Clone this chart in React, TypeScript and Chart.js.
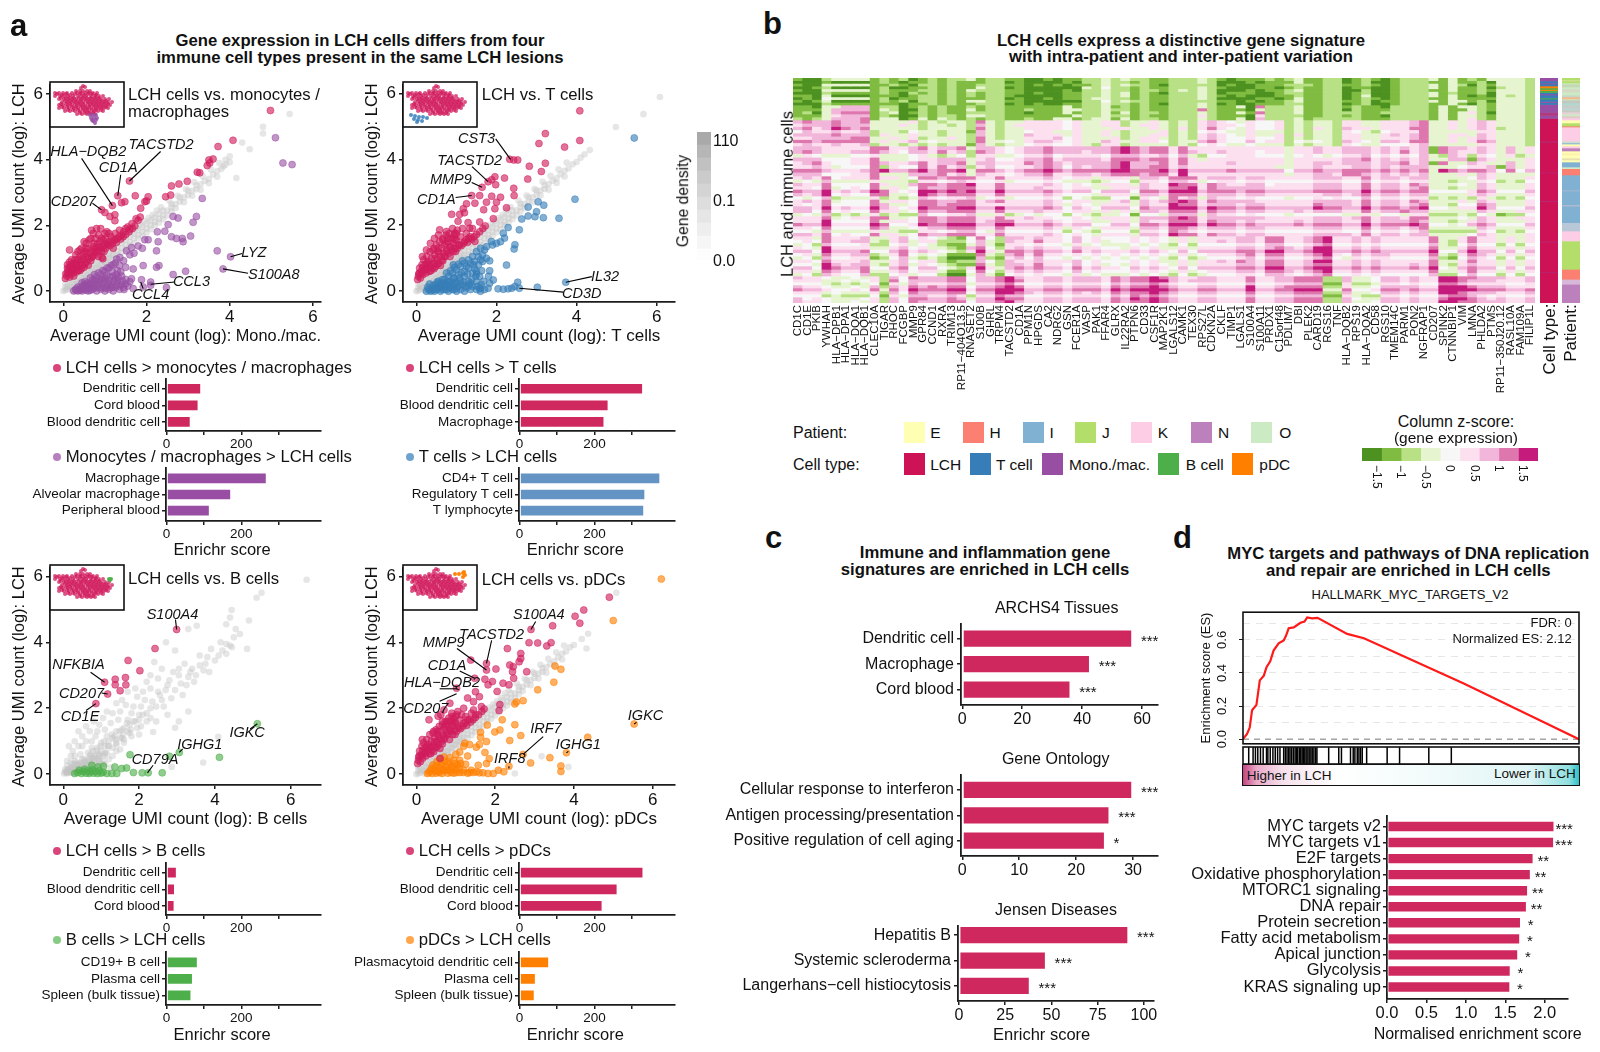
import React, { useEffect, useRef } from "react";
import { Chart, registerables } from "chart.js";
Chart.register(...registerables);
const FONT = "'Liberation Sans', Arial, sans-serif";
Chart.defaults.font.family = FONT;
Chart.defaults.color = "#111";

// ---------- colours
const LCH_C = "rgba(208,28,92,0.62)", MONO_C = "rgba(152,78,163,0.6)", T_C = "rgba(55,126,184,0.62)", B_C = "rgba(77,175,74,0.62)", PDC_C = "rgba(255,127,0,0.62)";
const BAR_LCH = "#CF285F", BAR_MONO = "#984EA3", BAR_T = "#6394C4", BAR_B = "#4DAF4A", BAR_PDC = "#FF7F00";
const HEAT_COLORS = ["#4d9221", "#7fbc41", "#b8e186", "#e6f5d0", "#f7f7f7", "#fde0ef", "#f1b6da", "#de77ae", "#c51b7d"];

// ---------- scatter data (x, y pairs)
const greyDiagonal = [0,0,.05,.02,.05,.1,.1,.05,.1,.15,.15,.12,.2,.1,.2,.25,.25,.2,.3,.2,.3,.35,.35,.28,.4,.3,.4,.45,.45,.38,.5,.4,.5,.55,.55,.48,.6,.5,.6,.65,.65,.58,.7,.6,.7,.75,.75,.68,.8,.7,.8,.85,.85,.78,.9,.8,.9,.95,.95,.88,1,.9,1,1.05,1.05,.98,1.1,1,1.1,1.15,1.15,1.08,1.2,1.1,1.2,1.25,1.3,1.2,1.3,1.35,1.4,1.3,1.4,1.45,1.5,1.4,1.5,1.55,1.6,1.5,1.6,1.65,1.7,1.6,1.7,1.75,1.8,1.7,1.8,1.85,1.9,1.8,1.9,1.95,2,1.9,2,2.05,2.1,2,2.1,2.15,2.2,2.1,2.2,2.25,2.3,2.2,2.3,2.35,2.4,2.3,2.4,2.45,2.5,2.45,2.6,2.55,2.6,2.65,2.7,2.65,2.8,2.72,2.8,2.85,2.9,2.85,3,2.92,3,3.05,3.1,3.05,3.2,3.1,3.2,3.22,3.3,3.25,3.4,3.35,3.5,3.42,3.6,3.55,3.7,3.65,3.8,3.72,3.9,3.85,4,3.92];
const greyBand = [.2,.02,.3,.1,.4,.2,.5,.28,.6,.38,.7,.48,.8,.58,.9,.68,1,.78,1.1,.88,1.2,.98,1.3,1.1,1.4,1.18,1.5,1.28,1.6,1.38,1.7,1.45,1.8,1.6,1.9,1.68,2,1.78,2.1,1.88,.05,.22,.15,.32,.25,.42,.35,.52,.45,.62,.55,.72,.65,.82,.75,.92,.85,1.02,.95,1.12,1.05,1.22,1.15,1.32,1.25,1.42,1.35,1.52,1.45,1.62,1.55,1.72,1.65,1.82,1.75,1.92,1.85,2.02,1.95,2.12,2.05,2.22,2.15,2.32,2.25,2.45,2.35,2.55,2.2,2,2.3,2.08,2.4,2.18,2.5,2.3,2.6,2.42,2.7,2.52,2.55,2.75,2.75,2.9,2.95,3.1,3.15,3.32,3.35,3.5,3.55,3.7,3.75,3.9,2.9,2.7,3.1,2.9,3.3,3.08,3.5,3.28,3.7,3.48];
const greyS1 = [5.44,5.39,4.8,5,4.8,4.8,4.3,4.52,4.48,4.32,4.16,3.44,4,4.1,3.9,4,3.85,3.8];
const greyS2 = [6.08,5.89,5.67,5.37,4.98,4.98,4.33,4.28,4.2,4.15,4.1,4.05];
const greyS4 = [5.08,5.5,4.36,4.26,4.32,3.81,4.2,4.1,3.18,.54,3.86,.22,2.5,.02,2.1,.1];
const greyS3 = [6.42,5.9,5.23,5.5,5.1,5.35,4.44,4.98,4.4,4.75,4.9,4.66,4.3,4.55,3.52,4.5,3.3,4.4,2.71,4,2.95,3.75,4.66,4.25,4.5,4.15,4.3,3.95,4.85,3.8,4.4,3.9,4.2,3.75,4.1,3.6,3.9,3.8,3.8,3.55,3.69,.35,2.86,.22,4.09,1.13,2.95,1.41,2.37,1.28,3.6,3.3,3.7,3.15,3.4,3.2,3.5,3,3.2,3.35,3.05,3,3.3,2.95,3.1,2.75,2.9,3.1,2.8,2.85,2.6,3.2,2.5,2.9,2.4,3.4,2.3,3,2.7,2.55,2.5,2.5,2.3,2.6,2.2,2.8,2.1,2.5,2.6,2.25,2.35,2.2,2.15,2.25,1.95,2.35,1.9,2.6,1.7,2.5,1.85,2.05,2.05,2.05,2.2,1.85,2,1.8,1.8,1.85,1.65,2.1,1.55,2.25,1.4,2.15,1.5,1.9,1.7,1.65,1.9,1.6,2.05,1.45,1.6,1.4,1.45,1.65,1.3,1.85,1.15,1.9,1.05,1.7,1.25,1.55,1.4,1.3,1.75,1.25,1.55,1.1,1.3,1.1,1.1,1.35,.95,1.5,.8,1.6,.9,1.3,1.15,1.15,1.4,.9,1.2,.85,1,.95,.85,1.15,.7,1.3,.6,1.45,.75,1,.9,.8,1.1,.65,.95,.6,.75,.8,.6,1,.5,1.15,.4,1.3,.3,1,.5,.85,.65,.65,.8,.5,.95,.4,1.1,.3,.4,.85,.25,.7,.15,.85,.3,.55,.45,.6,.55,.45,.7,.35,.85,.25,.2,.55,.1,.4,.2,.35,.3,.4,.4,.3,.55,.25,.7,.15,.1,.25,.05,.15,.12,.15,.2,.2,.3,.15,.4,.1,.5,.08,.02,.02,.06,.05,.1,.05,.15,.05,.2,.06,.25,.05,.3,.05,1.25,.2,1.05,.3,1.4,.7,1.6,.95,3.3,1.9,3.05,1.6,2.75,1.8];
const greyS3b = [.1,.02,.2,.15,.25,.12,.3,.3,.35,.2,.4,.12,.45,.35,.5,.25,.55,.15,.6,.3,.65,.45,.7,.55,.75,.35,.8,.2,.85,.45,.9,.6,.95,.4,1,.3,1,.7,1.05,.55,1.1,.85,1.15,.65,1.2,.45,1.2,1,1.3,.8,1.3,.55,1.35,1.15,1.4,.95,1.5,.75,1.5,1.1,1.55,1.35,1.6,1.05,1.7,1.3,1.75,1.5,1.8,1.15,1.85,1.6,1.95,1.4,2,1.65,2,1.2,2.1,1.8,2.2,1.6,2.3,2,2.3,1.7,2.45,2.05,2.45,1.6,2.55,2.4,2.65,2.05,2.75,2.7,2.85,2.3,2.95,2.55,3.05,3.2,3.15,2.4,3.25,2.7,3.35,3.1,3.45,2.8,3.6,3.6,3.75,3.35,3.85,3.1,4,3.45,4.15,4,4.3,3.65,4.45,3.85,4.55,4.4,.1,.1,.15,.15,.2,.2,.25,.3,.3,.15,.35,.35,.4,.25,.45,.2,.5,.45,.55,.35,.6,.2,.65,.3,.7,.2,.75,.5,.8,.4,.85,.3,.9,.25,.95,.55,1.05,.4,1.1,.6,.05,.08,.12,.06,.18,.1,.22,.05,.28,.2,.32,.1,.38,.28,.42,.15,.48,.32,.52,.12,.58,.4,.62,.25,.68,.38,.72,.6,.78,.7,.82,.55,.88,.72,.92,.45,.98,.85,1.08,1,1.18,.85,1.28,1.2,1.38,1.05,1.48,1.3,1.58,1.2,1.68,1.55,1.78,1.35];

const pinkBandFill = [.06,.52,.14,.55,.16,.72,.24,.65,.26,.85,.32,.82,.36,.62,.44,.68,.46,.98,.52,.82,.56,1.15,.6,.78,.66,.92,.7,1.05,.74,1.45,.76,1.2,.84,1.05,.86,1.35,.92,1.2,.96,1.55,.98,1.2,1.02,1.3,1.08,1.4,1.12,1.38,1.18,1.45,1.24,1.55,1.28,1.48,1.34,1.65,1.38,1.58,1.44,1.65,1.5,1.72,1.58,1.8,1.66,1.9,1.72,1.98,.44,1.3,.54,1.3,.66,1.6,.78,1.6,.92,1.6,1,1.75];
const s1Pink = [4.98,5.5,4.08,4.59,3.72,4.4,3.6,4.02,3.5,3.99,3.46,3.82,3.52,3.9,3.28,3.6,3.22,3.62,2.98,3.34,2.78,3.26,2.6,3.2,2.58,2.92,2.46,2.87,1.59,3.35,1.31,2.9,1.73,2.9,1.48,2.72,1.4,2.69,1.18,2.6,2.04,2.87,2,2.74,1.96,2.72,1.86,2.52,1.24,2.32,1.24,2.14,1.12,2.27,1,2.39,.92,2.47,.05,.38,.08,.45,.1,.55,.12,.65,.15,.42,.18,.5,.2,.62,.22,.75,.25,.55,.28,.68,.3,.85,.1,.8,.15,.88,.2,.95,.28,.95,.33,.72,.35,.95,.38,.8,.4,1.05,.42,.9,.45,.78,.48,1.1,.5,.95,.52,1.2,.55,.88,.58,1.05,.6,1.3,.62,.98,.65,1.15,.68,1.02,.7,1.25,.72,1.35,.75,1.1,.78,1.3,.8,1.18,.82,1.42,.85,1.22,.88,1.5,.9,1.3,.93,1.02,.95,1.35,1,1.4,1.02,1.6,1.05,1.45,1.1,1.5,1.15,1.65,1.2,1.55,1.25,1.75,1.3,1.6,1.35,1.85,1.4,1.7,1.45,1.8,1.5,1.9,1.55,1.95,1.6,1.88,1.65,2.05,1.75,2.2,1.8,2.15,1.85,2.25,.15,1.25,.35,1.2,.5,1.5,.62,1.55,.68,1.85,.72,1.75,.8,1.9,.85,1.7,.9,1.9,1.05,1.8,1.1,1.75,1.2,1.3,.95,.98,.4,1.25,.3,1.1,.55,1.45,.1,.7,.18,.8,.25,.45,.32,.58,.4,.62,.5,.72];
const s1Mono = [5.1,4.67,5.28,3.9,5.5,3.85,3.34,2.82,3.2,2.27,3.12,2.09,2.76,2.22,2.64,2.27,2.52,2.02,2.44,1.82,2.26,1.8,2.6,1.65,2.72,1.6,2.86,1.6,2.88,1.5,3.06,1.67,3.7,1.22,4.02,1.04,3.84,.67,2.28,1.5,2.24,1.22,2.04,1.56,1.96,1.56,2.3,.77,2.24,.72,1.92,.77,1.68,.67,2.94,.6,2.64,.5,2.48,.1,2.1,.27,2.1,.17,1.88,.34,1.92,.12,1.68,.07,1.46,.04,1.5,.22,1.64,.37,1.5,.72,1.28,.97,1.36,1.02,1.52,1.22,1.64,1.32,1.8,1.37,.25,0,.3,.05,.35,0,.4,.1,.45,0,.5,.05,.5,.18,.55,.1,.6,0,.6,.25,.65,.15,.7,.05,.7,.33,.75,.2,.8,0,.8,.42,.85,.1,.85,.3,.9,.05,.9,.5,.95,.2,.95,.4,1,0,1,.6,1.05,.15,1.05,.48,1.1,.05,1.1,.3,1.1,.7,1.15,.2,1.2,0,1.2,.45,1.2,.8,1.25,.1,1.3,.3,1.3,.62,1.35,.05,1.4,.2,1.4,.45,1.5,.35,.65,.02,.4,.02,.55,.18,.75,.08,.95,.1,1.15,.1,1.25,.38,.3,.02,.35,.12,.42,.05,.48,.15,.55,.02,.58,.2,.62,.08,.68,.22,.72,.12,.78,.3,.82,.18,.88,.22,.92,.35,.98,.3,1.02,.08,1.02,.38,1.08,.22,1.12,.42,1.18,.12,1.18,.58,1.22,.3,1.28,.18,1.28,.5,1.32,.4,1.35,.15,1.38,.58,1.42,.3,1.45,.1,1.55,.15,1.6,.28,.65,.4,.75,.5,.85,.55,.95,.62,1.05,.7,1.15,.78,1.25,.85,1.35,.78,1.45,.92,1.6,1.1,1.7,1.15,1.9,1.3,.52,.28,.45,.25,.75,.35];
const s2Pink = [4.08,5.47,3.22,4.78,3.06,4.48,3.7,4.37,4.08,4.57,3.22,3.88,3.12,3.63,2.82,3.79,2.78,3.4,2.53,3.98,2.33,4,2.43,3.98,2.2,3.43,1.96,3.47,1.88,3.38,1.79,3.32,1.98,3.23,1.64,3.15,2.43,3.12,2.44,2.9,2.1,2.85,1.88,2.88,1.58,2.9,1.38,2.9,1.75,2.7,2,2.7,1.96,2.5,1.68,2.47,2.25,2.53,1.92,2.2,1.46,2.67,1.25,2.65,1.17,2.5,1.2,2.38,.88,2.33,1.08,2.33,1.04,2.12,1.29,2.08,1.46,1.51,.58,1.86,.75,1.81,.96,1.76,1.33,1.91,1.58,2.1,.03,.35,.05,.45,.07,.55,.08,.7,.1,.4,.12,.6,.14,.8,.16,.5,.18,.95,.2,.65,.22,.8,.24,.55,.26,1.05,.28,.7,.3,.9,.32,.6,.34,1.2,.36,.8,.38,1,.4,.7,.42,1.25,.44,.85,.46,1.1,.48,.75,.5,1.4,.52,.95,.54,1.2,.56,.85,.58,1.5,.6,1.05,.62,1.3,.64,.95,.66,1.55,.68,1.15,.7,1.4,.72,1.05,.74,1.7,.76,1.25,.78,1.5,.8,1.15,.82,1.75,.84,1.35,.86,1.6,.88,1.25,.9,1.9,.92,1.45,.94,1.7,.96,1.3,1,1.55,1.02,1.85,1.05,1.4,1.1,1.65,1.15,1.9,1.2,1.5,1.25,1.75,1.3,1.6,1.4,1.9,.15,1.05,.25,1.25,.35,1.45,.45,1.6,.55,1.7];
const s2T = [5.44,4.65,3.96,2.79,3.04,2.71,3.18,2.61,2.79,2.55,3,2.41,2.79,2.28,2.96,2.26,3.17,2.23,3.56,2.21,2.63,2.19,2.57,1.86,2.29,1.93,2.17,1.76,2.2,1.61,1.87,1.51,2.46,1.41,2.44,1.28,2.25,.79,3.73,.27,2.53,.27,2.57,.09,3.02,.12,2.04,.07,2.17,.06,2.29,.07,2.38,.09,2.46,.14,1.92,.34,1.83,.24,1.79,.09,1.58,.07,1.83,.62,1.83,.92,1.63,.62,1.5,.52,1.46,.67,.92,.8,.33,.22,.25,0,.3,.05,.35,0,.4,.1,.45,0,.5,.05,.5,.2,.55,.1,.6,0,.6,.25,.65,.15,.7,.05,.7,.35,.75,.2,.8,0,.8,.45,.85,.1,.85,.3,.9,.05,.9,.55,.95,.2,.95,.4,1,0,1,.65,1.05,.15,1.05,.5,1.1,.05,1.1,.3,1.1,.75,1.15,.2,1.2,0,1.2,.45,1.2,.85,1.25,.1,1.3,.3,1.3,.7,1.3,.95,1.35,.05,1.4,.15,1.4,.55,1.4,1.05,1.45,.9,1.5,.05,1.5,.3,1.5,1.2,1.55,.8,1.6,0,1.6,.1,1.65,1.1,1.7,.05,1.75,1.35,1.75,1,1.8,.45,1.9,1.4,2,1.45,2.1,1.5,1.7,1.25,1.6,1.3,1.2,.6,1,.25,.8,.25,.6,.12,1.35,.25,1.5,.6,1.65,.9,.95,.05,.75,.05,.28,.12,.38,.03,.42,.18,.48,.1,.52,.28,.58,.15,.62,.05,.68,.25,.72,.15,.78,.3,.82,.12,.88,.2,.92,.4,.98,.28,1.02,.1,1.08,.4,1.12,.55,1.18,.28,1.22,.15,1.28,.52,1.32,.18,1.38,.35,1.42,.8,1.48,.45,1.52,.15,1.58,.45,1.62,.2,1.68,.3,.65,.35,.75,.55,.85,.62,.95,.72,1.05,.82,1.15,.92,1.25,.75,1.35,.85,1.55,1.05,1.6,.95,.45,.05,.55,.3];
const s3Pink = [2.99,4.39,2.42,3.81,1.71,3.45,2.02,3.14,1.64,2.93,1.37,2.88,1.09,2.79,1.37,2.71,1.65,2.71,1.5,2.53,1.17,2.43,.86,2.14];
const s3B = [5.12,1.53,3.06,.66,4.12,.51,2.8,.54,1.76,.59,2.61,.04,2.24,.04,2.08,.04,1.85,.05,1.67,.19,1.54,.17,1.36,.22,1.41,.02,1.28,.02,1.15,.02,1.06,.24,.92,.22,.75,.27,.3,.02,.38,.05,.42,.12,.48,.02,.52,.08,.56,.15,.6,.03,.64,.1,.68,.02,.72,.07,.76,.13,.8,.03,.85,.08,.9,.02,.95,.1,1,.03,1.05,.06];
const s4Pink = [4.9,5.37,4.25,4.98,4.03,4.79,4.15,4.58,3.46,4.5,2.91,4.39,2.86,3.99,3.08,3.98,3.31,3.89,3.42,3.99,2.31,3.81,2.65,3.66,2.65,3.51,2.61,3.41,1.38,3.46,1.78,3.36,2.02,3.19,1.78,3.16,2.37,3.31,2.46,3.26,2.44,3.11,2.8,3.11,2.47,2.91,1.74,2.88,1.48,2.91,1.93,2.81,1.82,2.71,2.2,2.76,2.35,2.71,2.05,2.51,2.12,2.11,2.1,1.93,1.3,2.31,1.02,2.61,.32,1.65,.55,1.76,.62,1.8,.7,1.95,.85,2.15,1.2,2,1.45,2.2,1.6,2.35,1.65,2.05,1.45,1.95,1.5,2.5,1.05,1.9,.9,1.85,.03,.32,.05,.42,.07,.55,.08,.7,.1,.38,.12,.6,.14,.85,.16,.48,.18,.95,.2,.65,.22,.8,.24,.55,.26,1.05,.28,.72,.3,.9,.32,.62,.34,1.2,.36,.82,.38,1,.4,.72,.42,1.25,.44,.88,.46,1.1,.48,.8,.5,1.35,.52,.98,.54,1.2,.56,.9,.58,1.45,.6,1.08,.62,1.3,.64,1,.66,1.5,.68,1.18,.7,1.4,.72,1.1,.74,1.6,.76,1.28,.78,1.5,.8,1.2,.82,1.7,.84,1.38,.86,1.6,.88,1.3,.9,1.75,.92,1.48,.94,1.7,.96,1.35,1,1.55,1.02,1.8,1.05,1.45,1.1,1.65,1.15,1.8,1.2,1.55,1.25,1.75,1.3,1.65,1.4,1.85,1.5,1.8,.15,1.05,.6,.48];
const s4P = [6.22,5.92,5,4.66,5.53,1.52,4.35,1.12,3.81,.65,3.67,.25,3.67,.08,3.39,.5,2.9,.34,2.35,.24,2.71,.6,3.52,3.28,3.67,3.18,3.49,2.79,3.08,2.56,2.71,2.23,2.54,2.19,2.5,2.13,2.18,1.65,2.5,1.5,2.65,1.17,2.37,1.02,2.12,1.34,1.99,1.28,1.8,1.49,1.63,1.27,1.63,1.12,1.78,.99,1.6,.9,1.52,.82,1.74,.66,1.85,.47,1.78,.32,1.57,.27,2.22,.07,2.08,.12,1.95,.02,1.82,.02,1.69,.04,1.52,.07,1.39,.12,1.23,.94,1.1,.67,1.2,.85,1.35,.9,1.3,.55,.28,.02,.35,.1,.4,.02,.45,.15,.5,.03,.5,.25,.55,.08,.6,.18,.65,.02,.65,.32,.7,.1,.75,.22,.8,.03,.8,.38,.85,.12,.9,.25,.95,.03,.95,.42,1,.13,1.05,.28,1.1,.05,1.1,.42,1.2,.12,1.25,.3,1.3,.03,.32,.05,.38,.18,.42,.28,.48,.1,.52,.38,.58,.05,.62,.28,.68,.15,.72,.4,.78,.12,.82,.3,.88,.05,.92,.2,.98,.32,1.02,.05,1.08,.2,1.12,.32,1.18,.05,1.35,.05,.6,.45,.7,.52,.85,.5,1,.6,1.45,.05,1.6,.04];

// leader labels: text, text x, text y, line x1, y1, x2, y2 (all on the data axes)
const labelsS1 = [["TACSTD2",2.35,4.45,2.34,4.25,1.59,3.35],["HLA−DQB2",.6,4.24,.44,4.04,1.18,2.6],["CD1A",1.32,3.74,1.38,3.54,1.31,2.9],["CD207",.24,2.71,.7,2.67,.92,2.47],["LYZ",4.58,1.17,4.3,1.14,4.02,1.04],["S100A8",5.06,.49,4.44,.54,3.84,.67],["CCL3",3.08,.27,2.68,.27,2.1,.2],["CCL4",2.1,-.13,1.92,.07,1.86,.27]];
const labelsS2 = [["CST3",1.5,4.62,1.98,4.62,2.35,4],["TACSTD2",1.33,3.95,1.39,3.78,1.79,3.32],["MMP9",.86,3.38,1.38,3.3,1.64,3.15],["CD1A",.5,2.77,.98,2.84,1.38,2.9],["IL32",4.71,.42,4.38,.44,3.73,.27],["CD3D",4.13,-.1,3.67,-.03,2.57,.09]];
const labelsS3 = [["S100A4",2.88,4.83,2.96,4.69,2.99,4.39],["NFKBIA",.4,3.31,.72,3.09,1.09,2.79],["CD207",.48,2.43,1.01,2.46,1.17,2.43],["CD1E",.44,1.74,.6,1.93,.86,2.14],["IGKC",4.85,1.25,4.93,1.37,5.12,1.53],["IGHG1",3.6,.89,3.15,.77,3.06,.66],["CD79A",2.42,.44,2.37,.27,2.22,.04]];
const labelsS4 = [["S100A4",3.11,4.83,3.03,4.63,2.91,4.39],["MMP9",.69,3.99,1.03,3.81,1.78,3.16],["TACSTD2",1.91,4.21,1.91,4.06,1.78,3.36],["CD1A",.78,3.28,1.1,3.13,1.48,2.91],["HLA−DQB2",.65,2.76,.59,2.59,1.02,2.59],["CD207",.24,1.99,.59,2.21,1.02,2.44],["IRF7",3.29,1.37,3.22,1.14,2.71,.6],["IRF8",2.37,.47,2.35,.17,2.35,.24],["IGHG1",4.11,.89,3.86,.69,3.81,.65],["IGKC",5.82,1.78,5.59,1.57,5.53,1.52]];

// t-SNE insets
const tsneLCH = [33,4,35,5,31,6,26,9,30,9,33,9,37,9,40,9,5,11,9,11,13,11,17,11,22,11,27,11,31,11,35,11,39,11,43,11,47,11,5,14,10,14,14,14,18,14,23,14,28,14,32,14,36,14,41,14,45,14,49,14,53,14,9,17,14,17,18,17,22,17,26,17,31,17,35,17,39,17,43,17,47,17,51,17,55,17,59,17,12,20,17,20,21,20,25,20,29,20,33,20,38,20,42,20,46,20,50,20,54,20,58,20,62,20,9,23,13,23,18,23,22,23,27,23,31,23,35,23,40,23,44,23,48,23,52,23,56,23,60,23,9,26,14,26,19,26,24,26,28,26,33,26,37,26,41,26,46,26,50,26,54,26,58,26,15,29,20,29,25,29,30,29,35,29,39,29,44,29,48,29,53,29,27,32,32,32,37,32,41,32,45,32,7,12,12,13,16,12,20,13,25,12,30,12,34,13,38,12,42,12,46,13,11,16,16,16,20,16,24,16,29,16,33,16,37,16,41,16,45,16,49,16,15,19,19,19,23,19,27,19,31,19,36,19,40,19,44,19,48,19,52,19,56,19,11,22,16,22,20,22,25,22,29,22,33,22,38,22,42,22,46,22,50,22,54,22,58,22,12,25,17,25,22,25,26,25,31,25,35,25,39,25,44,25,48,25,52,25,56,25,18,28,23,28,28,28,33,28,37,28,42,28,46,28,51,28,30,31,35,31,39,31,43,31];
const tsneMono = [40,33,43,33,46,33,41,36,44,36,47,36,43,39,46,38,45,41,42,38];
const tsneT = [8,33,12,34,16,35,20,35,24,36,11,37,15,38,19,39,14,40];
const tsneB = [59,14,61,14,60,15];
const tsnePDC = [52,9,56,9,60,8,61,7,60,12,62,10];

// bar panels
const a1Up = ["Dendritic cell", "Cord blood", "Blood dendritic cell"], a1UpVals = [92, 85, 64];
const a1Dn = ["Macrophage", "Alveolar macrophage", "Peripheral blood"], a1DnVals = [267, 172, 115];
const a2Up = ["Dendritic cell", "Blood dendritic cell", "Macrophage"], a2UpVals = [329, 237, 226];
const a2Dn = ["CD4+ T cell", "Regulatory T cell", "T lymphocyte"], a2DnVals = [375, 335, 332];
const a3Up = ["Dendritic cell", "Blood dendritic cell", "Cord blood"], a3UpVals = [27, 22, 21];
const a3Dn = ["CD19+ B cell", "Plasma cell", "Spleen (bulk tissue)"], a3DnVals = [83, 70, 66];
const a4Up = ["Dendritic cell", "Blood dendritic cell", "Cord blood"], a4UpVals = [330, 261, 221];
const a4Dn = ["Plasmacytoid dendritic cell", "Plasma cell", "Spleen (bulk tissue)"], a4DnVals = [78.5, 43, 40];
const c1Cats = ["Dendritic cell", "Macrophage", "Cord blood"], c1Vals = [56.6, 42.5, 36], c1Stars = ["***", "***", "***"];
const c2Cats = ["Cellular response to interferon", "Antigen processing/presentation", "Positive regulation of cell aging"], c2Vals = [29.8, 25.8, 25], c2Stars = ["***", "***", "*"];
const c3Cats = ["Hepatitis B", "Systemic scleroderma", "Langerhans−cell histiocytosis"], c3Vals = [91.4, 46.8, 38.1], c3Stars = ["***", "***", "***"];
const dCats = ["MYC targets v2", "MYC targets v1", "E2F targets", "Oxidative phosphorylation", "MTORC1 signaling", "DNA repair", "Protein secretion", "Fatty acid metabolism", "Apical junction", "Glycolysis", "KRAS signaling up"];
const dVals = [2.12, 2.115, 1.855, 1.82, 1.785, 1.77, 1.695, 1.685, 1.66, 1.565, 1.56];
const dStars = ["***", "***", "**", "**", "**", "**", "*", "*", "*", "*", "*"];

// GSEA
const esX = [0,1.2,2,2.7,4,5,6.2,7,8.1,9.1,10.6,12.1,12.7,13.6,15.1,17.1,18.3,19.1,20.6,22.2,31,36,65.7,100];
const esY = [0,.032,.07,.175,.207,.355,.384,.435,.47,.535,.579,.596,.62,.67,.675,.703,.71,.735,.73,.733,.636,.61,.336,0];
const rugHits = [1.7,3,3.7,4.4,5.2,6,7,7.4,8.1,8.9,9.6,10.3,11,12.1,12.6,13.1,13.6,14,14.5,15,15.5,15.9,16.3,16.8,17.2,17.6,18,18.4,18.8,19.3,19.7,20.2,20.6,21.1,21.6,22,25.5,28.5,29.3,32,32.8,33.3,34,34.5,35,35.5,36.8,42.9,46.6,55.3,62];

// heatmap
const genes = ["CD1C","CD1E","PKIB","YWHAH","HLA−DPB1","HLA−DPA1","HLA−DQA1","HLA−DQB1","CLEC10A","TIGAR","RHOC","FCGBP","MMP9","GPR84","CCND1","RXRA","TRIM13","RP11−404O13.5","RNASET2","S100B","GHRL","TRPM4","TACSTD2","CD1A","PPM1N","HPGDS","CA2","NDRG2","GSN","FCER1A","VASP","PAK1","FFAR4","GLRX","IL22RA2","PTPN6","CD33","CSF1R","MAP2K1","LGALS12","CAMK1","TEX30","RPS27L","CDKN2A","CKLF","TIMP1","LGALS1","S100A4","S100A11","PRDX1","C15orf48","PDLIM7","DBI","PLEK2","CARD19","RGS16","TNF","HLA−DQB2","RPS19","HLA−DQA2","CD58","RGS10","TMEM14C","PARM1","PON2","NGFRAP1","CD207","SPINK2","CTNNBIP1","VIM","LMNA","PHLDA2","PTMS","RP11−350J20.12","RASL10A","FAM109A","FILIP1L"];
const heatRows = [
"1002333312 1201212231 2211001011 2232322112 2232101112 1231122012 1012223131 2133332",
"0001000012 1011212111 2201000010 2232212112 2232000101 1131122012 0012221131 1203332",
"1003333311 2102212112 2211010101 1232322102 2222010011 1222122112 1012223132 0213332",
"0012000012 0011212113 2201000000 3242212112 2232100011 0121122011 0012223131 1202332",
"1003333312 1112212132 2211000010 2232212212 3232000101 1231122002 0012221131 1213332",
"0002111112 1021212121 2211010011 2232312102 2232011100 1221122012 0012223121 1203332",
"1103000011 1012212121 2210000011 2232312112 2232101000 1121122013 0012223131 0103232",
"0104333312 0112212111 2201001011 2332212112 2232000011 0131122012 1012221131 1113332",
"1013000012 1202212133 2211000000 2242322112 2222110101 1231122112 0112223133 1203332",
"0002111111 1011212112 2201010011 2232212102 2232010011 1221122012 0012221131 0213332",
"1103366612 2012121121 2211111131 2231212112 2232113072 2231122121 1022221313 3213332",
"1113666613 2002121131 2211211133 2232212112 2272111032 2231122021 1122221311 3213332",
"1203677712 3012121122 2211011131 2231312212 2232113172 2231122221 1222221313 5203332",
"1113566612 1002122133 2211111113 2232212112 2252111052 2221122121 1022221313 3213332",
"2123666713 3013132121 2211211331 2331312212 2232113062 2231222221 1122221313 5213332",
"6766766733 3352323327 3233555545 3355233532 3256543544 5232332553 3555673353 5653332",
"5666766633 3532332326 3235555545 3355235532 3256554544 5232332553 3555673353 5653332",
"6756876733 3332333327 3233555545 3335533532 5257543544 5232532655 3555773353 5652332",
"4655655623 3243323316 3233455335 3353233352 3245433533 3232332543 2455573333 3553332",
"6666766625 3353323326 3233655535 3353233552 3256543533 5252332553 3565673355 3653332",
"5566667733 5352335327 3233555645 3335235532 3256544544 5232332553 3555673353 5653332",
"7767777735 3563433327 3343566545 3365335542 3367544645 5243432654 3665773353 5763332",
"5655655623 3232323316 3233455445 3255233332 3245433433 3232332543 3444563333 3553332",
"6665555577 5567566736 6545667666 6667876775 7555555555 5355655666 5656561766 5653635",
"6765556676 5466575627 6545667666 5667876775 7655655545 5355655666 5657561765 5653635",
"3543334453 3345323425 5334556455 5546665564 6324455544 4345434556 4545463265 2543523",
"6664445573 3345566635 6445667566 6657776775 7535555555 5355555667 5656563366 1653335",
"5675445576 5567566736 6555767656 6667866675 7555565555 5355665666 5667561733 6533635",
"5565344472 5447575625 6445567646 5667866775 6555555555 3355655566 5656663334 5561635",
"7776555678 6678677837 7656778767 7778877786 8666676666 6466766777 6767673876 7764746",
"6664445573 3366675636 5545667556 6567776775 8555555555 5355665776 5656563335 3653333",
"5657455575 5347767775 5755556545 5355536657 7756665665 5555666557 5665663333 4653335",
"3436333353 3325545654 4534445433 3234425546 6534554554 4444555446 4554553323 3542324",
"6557444475 3367767785 5755556545 4355536558 7757655664 5555666557 5665763334 3653335",
"5547345473 5347667775 5755565545 5335556557 7857666665 5555666557 5665673323 3653335",
"7668565687 5458878786 6866667656 6466647768 8867776776 6666777668 6776774444 5764446",
"6568454477 3348767775 5755556544 4355536657 7756665665 5555566567 5665663333 5653335",
"4346233352 3236545563 4534445424 3224415437 5636554544 4344545446 4554552323 2532324",
"5657344473 5547766775 6755556545 5335636567 8757666655 5555666657 5665763335 3653335",
"5457444476 3347767775 5555556535 4355536558 7756665665 5555766657 5665673324 4763335",
"6658565586 5458777886 6866667646 5466647668 8868776776 6666877668 6776784435 5864446",
"6647454475 5347667775 5755565545 5353536657 7757665665 5565666557 5667663333 3653355",
"3436232352 3226445563 3523434424 3233414436 6636554544 4344444335 3443552223 2431224",
"5557345577 3347767775 5755655445 4355536667 8756666665 5555666567 5665773334 3653355",
"5558444473 5547767775 6775556545 5335536557 7757665655 5565666557 5666763323 5653335",
"7668555587 4458778886 6886667656 6446647768 8868776766 6676777668 6777874434 6764446",
"5547444476 3345667775 5755556535 4355536657 7656665665 5555666557 5665673333 3653335",
"4436333353 3225545664 3644445424 3244425547 6545554554 4444555446 4554562222 2542324",
"6657454475 5347667775 5755556545 4355536658 7757665665 5555666657 5665663333 4653335",
"5537555633 5645432147 4266565546 4544454543 5355556657 7556785565 6555557335 7553535",
"4547556632 5635522246 3265575546 4534454543 5355656657 7556785565 6555557325 7553535",
"3426444522 4534321136 3155454435 3433343432 4244445546 6445674454 5444446324 6442424",
"5438555533 5645332167 4256565546 5544354533 5355556656 7656885565 6555557335 7553535",
"6648666744 6756543258 5377676657 5655565654 6466667768 8667886676 7666668446 8664646",
"4537556623 5743431117 3267575545 4545454543 5345556757 7556785465 6655557325 7653535",
"3426445512 4632320006 2156464434 3434343432 4234445646 6445674354 5544446214 6542424",
"5547555633 5645521226 4265565556 4544454533 5355657657 7556885565 6555557335 7553535",
"4438656632 5635432117 3266575546 4534354543 5355556657 7556775565 6555657325 6553535",
"6648766744 6746643258 5367676657 5655465654 6466667768 8667886676 7666768436 7664646",
"5537655733 5645531147 4256565546 4544454543 5345556657 7656785565 6555557335 7553535",
"3426544622 4534420036 3145454435 3433343432 4234445546 6545674454 5444446224 6442424",
"6554334352 6476667746 6786556656 6657677876 5566555755 6677722633 4665655887 7666556",
"5553343452 7466667746 6787556656 6657677886 5666555755 6677722633 4665655887 6665556",
"4443232341 5365556635 5675445545 5546566765 4455444644 5566611522 3554544776 5555445",
"6554334362 6576767746 6787556656 6657677876 5566555855 6777722533 4666655888 7666555",
"7665445473 7587778857 7888667767 7768788887 6677666866 7788833744 5776766888 8777667",
"5553433352 6476667746 6887656656 5657677876 5566555755 6677722633 4665655887 6665556",
"4442322241 5366556525 5766445545 5546576765 4455444644 5566611532 2554544677 6545445",
"6454333452 6477667636 6877556656 6657687876 5566555755 6677722643 3665655788 7656556",
"6554334352 6476667746 6786556656 6657677876 5566555755 6677722633 4665655887 7666556",
];
const heatRowSpan = [2.7,2.7,2.7,2.7,2.7,2.7,2.7,2.7,2.7,2.7,3,3,3,3,3,3.25,3.25,3.25,3.25,3.25,3.25,3.25,3.25,3.75,3.75,3.75,3.75,3.75,3.75,3.75,3.75,3.34,3.33,3.33,3.34,3.33,3.33,3.34,3.33,3.33,3.34,3.33,3.33,3.34,3.33,3.33,3.34,3.33,3.33,3.34,3.33,3.33,3.34,3.33,3.33,3.34,3.33,3.33,3.34,3.33,3.33,3,3,3,3,3,3,3,3,3];
const E="#FFFFB3",H="#FB8072",I="#80B1D3",J="#B3DE69",K="#FCCDE5",N="#BC80BD",O="#CCEBC5";
const cL="#CE1256",cT="#377EB8",cM="#984EA3",cB="#4DAF4A",cP="#FF7F00";
const cellTypeSpan = [3,2,1,2,2,1.5,1,2,1.5,1,3,1,2.5,1,2,8,3,3,23,.8,30,.6,28,.6,40,.6,30,.6,30.4];
const cellTypeFill = [cM,cT,cM,cT,cP,cB,cP,cB,cT,cM,cT,cB,cT,cM,cT,cM,"#b03a80",cM,cL,"#a8307a",cL,"#a8307a",cL,"#a8307a",cL,"#a8307a",cL,"#a8307a",cL];
const patientSpan = [2,1,2,1,3,2,3,3,2,2,1,3,2,3,2,2,2,2,2,2,3,3,1,14,2,1,2,2,3,2,2,3,2,2,5,1.7,6.3,15,1,14,1,16.7,8.3,10,28.3,10,5,19.7];
const patientFill = [J,"#d8e0a0",J,O,"#c5d8b5",O,"#d4d8c4",O,"#c5d8c5","#f4b88a",O,"#c0c8c0","#b0d8d0","#c8ccc8","#bcd4d4","#c8ccc0","#e8d0d8",O,"#e0c8c8",K,E,J,H,K,"#d0dcd0",I,E,K,N,E,"#fff0b0",E,"#e8e0b0",E,I,O,H,I,"#a8b8d0",I,"#c4c0d0",I,"#b8c8d8",K,J,H,"#d8b8d8",N];
const zBreaks = [-1.793,-1.392,-.992,-.591,-.19,.21,.611,1.012,1.413,1.814];
const zTicks = [-1.5,-1,-.5,0,.5,1,1.5], zTickText = ["−1.5","−1","−0.5","0","0.5","1","1.5"];
const densitySteps = [.2154,.2154,.2154,.2154,.2154,.2154,.2154,.2154,.2154,.2154];
const densityFill = ["#fdfdfd","#f6f6f6","#eeeeee","#e6e6e6","#dddddd","#d4d4d4","#cbcbcb","#c1c1c1","#b6b6b6","#a9a9a9"];
const densityTickText = ["0.0","0.1","110"];

const patientKey = [["E",E,903.7,930.2],["H",H,962.9,989.4],["I",I,1022.6,1049.6],["J",J,1075,1102],["K",K,1131,1157.8],["N",N,1191.4,1218],["O",O,1251,1279.2]];
const cellKey = [["LCH",cL,903.7,930.2],["T cell",cT,969.5,996],["Mono./mac.",cM,1042,1069],["B cell",cB,1158.3,1185.8],["pDC",cP,1232.2,1259.3]];

// ---------- helpers
const pairs = (a: number[]) => { const o: any[] = []; for (let i = 0; i + 1 < a.length; i += 2) o.push({ x: a[i], y: a[i + 1] }); return o; };
const INK = "#1c1c1c";

function Panel({ box, m, cfg, z }: any) {
  const ref = useRef<HTMLCanvasElement>(null);
  const [l, t, r, b] = box; const [ml, mt, mr, mb] = m;
  const W = Math.round(r - l + ml + mr), H_ = Math.round(b - t + mt + mb);
  useEffect(() => {
    const c = cfg();
    const o = c.options;
    o.responsive = false; o.animation = false; o.maintainAspectRatio = false; o.events = [];
    o.plugins = { legend: { display: false }, tooltip: { enabled: false }, title: { display: false }, ...(o.plugins || {}) };
    const xS = o.scales.x, yS = o.scales.y;
    const right = yS.position === "right";
    o.layout = { padding: { left: yS.display === false || right ? ml : 0, right: yS.display !== false && right ? 0 : mr, top: mt, bottom: xS.display === false ? mb : 0 } };
    if (xS.display !== false) xS.afterFit = (s: any) => { s.height = mb; };
    if (yS.display !== false) yS.afterFit = (s: any) => { s.width = right ? mr : ml; };
    const chart = new Chart(ref.current as any, c);
    return () => chart.destroy();
  }, []);
  return <canvas ref={ref} width={W} height={H_} style={{ position: "absolute", left: l - ml, top: t - mt, width: W, height: H_, zIndex: z || 1, pointerEvents: "none" }} />;
}

function T({ x, y, text, size = 16, bold, italic, align = "c", rot, color = "#111" }: any) {
  const tx = align === "c" ? "-50%" : align === "r" ? "-100%" : "0";
  return <div style={{ position: "absolute", left: x, top: y + 1, transform: `translate(${tx},-50%)${rot ? ` rotate(${rot}deg)` : ""}`, fontFamily: FONT, fontSize: size, fontWeight: bold ? 700 : 400, fontStyle: italic ? "italic" : "normal", lineHeight: 1, whiteSpace: "nowrap", color, zIndex: 3 }}>{text}</div>;
}

const axisGrid = { drawOnChartArea: false, drawTicks: true, tickLength: 4, color: INK, lineWidth: 1.5, offset: false };
const axisBorder = { display: true, color: INK, width: 1.8 };

const leaderPlugin = (labels: any[]) => ({
  id: "leaders",
  afterDatasetsDraw(ch: any) {
    const { ctx, scales: { x, y } } = ch;
    ctx.save(); ctx.strokeStyle = "#000"; ctx.lineWidth = 1.1; ctx.fillStyle = "#111";
    ctx.font = `italic 14.5px ${FONT}`; ctx.textAlign = "center"; ctx.textBaseline = "middle";
    for (const [t, tx, ty, x1, y1, x2, y2] of labels) {
      ctx.beginPath(); ctx.moveTo(x.getPixelForValue(x1), y.getPixelForValue(y1)); ctx.lineTo(x.getPixelForValue(x2), y.getPixelForValue(y2)); ctx.stroke();
      ctx.fillText(t, x.getPixelForValue(tx), y.getPixelForValue(ty));
    }
    ctx.restore();
  },
});

const scatterCfg = (sp: any) => () => {
  const xMin = (sp.box[0] - sp.x0) / sp.xs, xMax = (sp.box[2] - sp.x0) / sp.xs;
  const yMin = (sp.y0 - sp.box[3]) / sp.ys, yMax = (sp.y0 - sp.box[1]) / sp.ys;
  const pt = (data: number[], c: string) => ({ type: "scatter", data: pairs(data), backgroundColor: c, borderColor: c, borderWidth: 0.8, pointRadius: 3.5 });
  return {
    type: "scatter",
    data: { datasets: [pt(sp.up, LCH_C), pt(sp.dn, sp.col), { type: "scatter", data: pairs(sp.grey), backgroundColor: "rgba(196,196,196,0.42)", borderWidth: 0, pointRadius: 3.3 }] },
    options: {
      scales: {
        x: { type: "linear", min: xMin, max: xMax, afterBuildTicks: (s: any) => { s.ticks = [0, 2, 4, 6].map((v) => ({ value: v })); }, grid: axisGrid, border: axisBorder, ticks: { font: { size: 17 }, padding: 1, color: "#111", maxRotation: 0 }, title: { display: true, text: sp.xTitle, font: { size: 17 }, color: "#111", padding: { top: 0, bottom: 0 } } },
        y: { type: "linear", min: yMin, max: yMax, afterBuildTicks: (s: any) => { s.ticks = [0, 2, 4, 6].map((v) => ({ value: v })); }, grid: axisGrid, border: axisBorder, ticks: { font: { size: 17 }, padding: 3, color: "#111" }, title: { display: true, text: "Average UMI count (log): LCH", font: { size: 16.5 }, color: "#111", padding: { top: 4, bottom: 0 } } },
      },
    },
    plugins: [leaderPlugin(sp.labels)],
  };
};

const insetCfg = (extra: number[], col: string) => () => ({
  type: "scatter",
  data: { datasets: [
    { data: pairs(extra), backgroundColor: col, pointRadius: 2, borderWidth: 0 },
    { data: pairs(tsneLCH), backgroundColor: "rgba(206,18,86,0.72)", pointRadius: 2, borderWidth: 0 },
  ] },
  options: { scales: { x: { type: "linear", display: false, min: 0, max: 74 }, y: { type: "linear", display: false, min: 0, max: 45, reverse: true } } },
  plugins: [{ id: "inbox", beforeDatasetsDraw(ch: any) { const { ctx, chartArea: a } = ch; ctx.save(); ctx.fillStyle = "#fff"; ctx.fillRect(a.left, a.top, a.width, a.height); ctx.restore(); }, afterDatasetsDraw(ch: any) { const { ctx, chartArea: a } = ch; ctx.save(); ctx.strokeStyle = "#111"; ctx.lineWidth = 1.6; ctx.strokeRect(a.left, a.top, a.width, a.height); ctx.restore(); } }],
});

const hbarCfg = (sp: any) => () => {
  const [l, t, r, b] = sp.box;
  const n = sp.cats.length;
  const step = (sp.centers[n - 1] - sp.centers[0]) / (n - 1);
  const yMin = -(sp.centers[0] - t) / step, yMax = n - 1 + (b - sp.centers[n - 1]) / step;
  const xMin = (l - sp.x0) / sp.xs, xMax = (r - sp.x0) / sp.xs;
  const starPlugin = { id: "stars", afterDatasetsDraw(ch: any) {
    if (!sp.stars) return;
    const { ctx, scales: { x, y } } = ch;
    ctx.save(); ctx.fillStyle = "#111"; ctx.font = `${sp.starSize || 15}px ${FONT}`; ctx.textAlign = sp.starAlign || "left"; ctx.textBaseline = "middle";
    sp.stars.forEach((s: string, i: number) => ctx.fillText(s, x.getPixelForValue(sp.vals[i]) + sp.starGap, y.getPixelForValue(i) + 3));
    ctx.restore();
  } };
  return {
    type: "bar",
    data: { datasets: [{ data: sp.vals.map((v: number, i: number) => ({ x: v, y: i })), backgroundColor: sp.color, borderColor: sp.edge || "rgba(255,255,255,0.45)", borderWidth: 1, borderSkipped: false, barThickness: sp.thick }] },
    options: {
      indexAxis: "y",
      scales: {
        x: { type: "linear", min: xMin, max: xMax, afterBuildTicks: (s: any) => { s.ticks = sp.ticks.map((v: number) => ({ value: v })); }, grid: axisGrid, border: axisBorder, ticks: { font: { size: sp.tickSize }, padding: 1, color: "#111", maxRotation: 0, callback: (v: number) => (sp.tickShow ? (sp.tickShow.includes(v) ? String(v) : "") : sp.tickFmt ? sp.tickFmt(v) : String(v)) } },
        y: { type: "linear", offset: false, reverse: true, min: yMin, max: yMax, afterBuildTicks: (s: any) => { s.ticks = sp.cats.map((_: string, i: number) => ({ value: i })); }, grid: axisGrid, border: axisBorder, ticks: { font: { size: sp.catSize }, padding: sp.catPad, color: "#111", autoSkip: false, callback: (v: number) => sp.cats[v] } },
      },
    },
    plugins: [starPlugin],
  };
};

const stackCol = (spans: number[], fills: string[]) => () => ({
  type: "bar",
  data: { labels: [""], datasets: spans.map((s, i) => ({ data: [s], backgroundColor: fills[i], borderWidth: 0, barPercentage: 1, categoryPercentage: 1 })) },
  options: { scales: {
    x: { stacked: true, display: false },
    y: { stacked: true, display: false, reverse: true, min: 0, max: 225 },
  } },
});

const heatCfg = () => {
  const rows = heatRows.map((r) => r.replace(/\s/g, "").split("").map(Number));
  return {
    type: "bar",
    data: { labels: genes, datasets: rows.map((r, i) => ({ data: genes.map(() => heatRowSpan[i]), backgroundColor: genes.map((_, c) => HEAT_COLORS[r[c] ?? 4]), borderWidth: 0, barPercentage: 1, categoryPercentage: 1 })) },
    options: { scales: {
      x: { stacked: true, grid: { display: false, drawTicks: false }, border: { display: false }, ticks: { font: { size: 11.5 }, minRotation: 90, maxRotation: 90, padding: 2, color: "#111", autoSkip: false } },
      y: { stacked: true, display: false, reverse: true, min: 0, max: 225 },
    } },
  };
};

const zCfg = () => ({
  type: "bar",
  data: { labels: [""], datasets: HEAT_COLORS.map((c, i) => ({ data: [[zBreaks[i], zBreaks[i + 1]]], backgroundColor: c, borderWidth: 0, stack: "z", barPercentage: 1, categoryPercentage: 1 })) },
  options: { indexAxis: "y", scales: {
    x: { type: "linear", stacked: false, display: false, min: zBreaks[0], max: zBreaks[9] },
    y: { stacked: true, display: false },
  } },
  plugins: [{ id: "zlabels", afterDraw(ch: any) {
    const { ctx, scales: { x }, chartArea: a } = ch;
    ctx.save(); ctx.font = `12px ${FONT}`; ctx.fillStyle = "#111"; ctx.textAlign = "left"; ctx.textBaseline = "middle";
    zTicks.forEach((v, i) => { ctx.save(); ctx.translate(x.getPixelForValue(v), a.bottom + 4); ctx.rotate(Math.PI / 2); ctx.fillText(zTickText[i], 0, 0); ctx.restore(); });
    ctx.restore();
  } }],
});

const densityCfg = () => ({
  type: "bar",
  data: { labels: [""], datasets: densitySteps.map((s, i) => ({ data: [s], backgroundColor: densityFill[i], borderWidth: 0, barPercentage: 1, categoryPercentage: 1 })) },
  options: { scales: {
    x: { stacked: true, display: false },
    y: { stacked: true, position: "right", min: 0.033, max: 2.154, afterBuildTicks: (s: any) => { s.ticks = [0, 1, 2].map((v) => ({ value: v })); }, grid: { display: false, drawTicks: false }, border: { display: false }, ticks: { font: { size: 16 }, padding: 2, color: "#111", callback: (v: number) => densityTickText[v] } },
  } },
});

const gseaCfg = () => ({
  type: "scatter",
  data: { datasets: [
    { type: "line", data: esX.map((x, i) => ({ x, y: esY[i] })), borderColor: "#FF1A1A", borderWidth: 2.2, pointRadius: 0, tension: 0 },
    { type: "line", data: [{ x: 0, y: 0 }, { x: 100, y: 0 }], borderColor: "#777", borderWidth: 1, borderDash: [6, 5], pointRadius: 0 },
  ] },
  options: { scales: {
    x: { type: "linear", display: false, min: 0, max: 100 },
    y: { type: "linear", min: -0.028, max: 0.767, afterBuildTicks: (s: any) => { s.ticks = [0, .1, .2, .3, .4, .5, .6, .7].map((v) => ({ value: v })); },
      grid: { drawOnChartArea: true, drawTicks: true, tickLength: 4, lineWidth: 1, color: (c: any) => (c.tick && c.tick.value === 0 ? "transparent" : "#e6e6e6"), tickColor: (c: any) => (c.tick && Math.round(c.tick.value * 10) % 2 === 0 && c.tick.value < .65 ? INK : "transparent") },
      border: { display: false, dash: [7, 6] }, ticks: { callback: () => "", padding: 0 }, title: { display: true, text: "Enrichment score (ES)", font: { size: 13 }, color: "#111", padding: { top: 0, bottom: 0 } } },
  } },
  plugins: [{ id: "frame", afterDraw(ch: any) {
    const { ctx, chartArea: a, scales: { y } } = ch;
    ctx.save(); ctx.strokeStyle = "#111"; ctx.lineWidth = 1.6; ctx.strokeRect(a.left, a.top, a.width, a.height);
    ctx.font = `13px ${FONT}`; ctx.fillStyle = "#111"; ctx.textAlign = "center"; ctx.textBaseline = "middle";
    [0, .2, .4, .6].forEach((v) => { ctx.save(); ctx.translate(a.left - 21, y.getPixelForValue(v)); ctx.rotate(-Math.PI / 2); ctx.fillText(v.toFixed(1), 0, 0); ctx.restore(); });
    ctx.restore();
  } }],
});

const rugCfg = () => ({
  type: "scatter",
  data: { datasets: [{ data: rugHits.map((x) => ({ x, y: 0 })), pointStyle: "line", pointRotation: 90, pointRadius: 8.5, pointBorderColor: "#000", pointBorderWidth: 1.5, borderColor: "#000", backgroundColor: "#000" }] },
  options: { scales: { x: { type: "linear", display: false, min: 0, max: 100 }, y: { type: "linear", display: false, min: -1, max: 1 } } },
  plugins: [{ id: "frame2", afterDraw(ch: any) { const { ctx, chartArea: a } = ch; ctx.save(); ctx.strokeStyle = "#111"; ctx.lineWidth = 1.6; ctx.strokeRect(a.left, a.top, a.width, a.height); ctx.restore(); } }],
});

// ---------- small bar group descriptors
const EN_TICKS = [0, 100, 200, 300];
const smallBar = (cats: string[], vals: number[], color: string, col: number, top: number, bottom: number, centers: number[]) => ({
  box: col === 0 ? [165.8, top, 320.5, bottom] : [519.3, top, 674.9, bottom],
  m: col === 0 ? [160, 12, 12, 20] : [170, 12, 12, 20],
  cfg: hbarCfg({ box: col === 0 ? [165.8, top, 320.5, bottom] : [519.3, top, 674.9, bottom], x0: col === 0 ? 166.2 : 519.7, xs: 0.374, cats, vals, color, thick: 11, centers, ticks: EN_TICKS, tickShow: [0, 200], tickSize: 13.5, catSize: 13.5, catPad: 2 }),
});

const smallBars = [
  smallBar(a1Up, a1UpVals, BAR_LCH, 0, 379.3, 431, [389, 405.7, 422]),
  smallBar(a1Dn, a1DnVals, BAR_MONO, 0, 468.3, 521.7, [478.7, 495, 511.3]),
  smallBar(a2Up, a2UpVals, BAR_LCH, 1, 379.3, 431, [389, 405.7, 422]),
  smallBar(a2Dn, a2DnVals, BAR_T, 1, 468.3, 521.7, [478.7, 495, 511.3]),
  smallBar(a3Up, a3UpVals, BAR_LCH, 0, 862.7, 914.3, [872.3, 888.7, 905.3]),
  smallBar(a3Dn, a3DnVals, BAR_B, 0, 951.7, 1004.3, [962, 978.3, 994.7]),
  smallBar(a4Up, a4UpVals, BAR_LCH, 1, 862.7, 914.3, [872.3, 888.7, 905.3]),
  smallBar(a4Dn, a4DnVals, BAR_PDC, 1, 951.7, 1004.3, [962, 978.3, 994.7]),
];

const headings = [
  ["LCH cells > monocytes / macrophages", 65.7, 368, "#D9447A"], ["Monocytes / macrophages > LCH cells", 65.7, 457, "#B77FC0"],
  ["LCH cells > T cells", 418.7, 368, "#D9447A"], ["T cells > LCH cells", 418.7, 457, "#6FA3CF"],
  ["LCH cells > B cells", 65.7, 851.3, "#D9447A"], ["B cells > LCH cells", 65.7, 940.3, "#86CB83"],
  ["LCH cells > pDCs", 418.7, 851.3, "#D9447A"], ["pDCs > LCH cells", 418.7, 940.3, "#FFA64D"],
];

const S = [
  { box: [50, 81.7, 321, 302], x0: 63.3, xs: 41.6, y0: 290.7, ys: 33.33, up: [...s1Pink, ...pinkBandFill], dn: s1Mono, col: MONO_C, grey: [...greyDiagonal, ...greyBand, ...greyS1], labels: labelsS1, xTitle: "Average UMI count (log): Mono./mac." },
  { box: [403.3, 81.7, 675, 301.7], x0: 416.7, xs: 40, y0: 290.7, ys: 33.45, up: [...s2Pink, ...pinkBandFill], dn: s2T, col: T_C, grey: [...greyDiagonal, ...greyBand, ...greyS2], labels: labelsS2, xTitle: "Average UMI count (log): T cells" },
  { box: [50, 565, 321, 785], x0: 63.3, xs: 37.9, y0: 774, ys: 33.45, up: s3Pink, dn: s3B, col: B_C, grey: [...greyS3, ...greyS3b], labels: labelsS3, xTitle: "Average UMI count (log): B cells" },
  { box: [403.3, 565, 675, 785], x0: 416.7, xs: 39.33, y0: 774, ys: 33.45, up: [...s4Pink, ...pinkBandFill], dn: s4P, col: PDC_C, grey: [...greyDiagonal, ...greyBand, ...greyS4], labels: labelsS4, xTitle: "Average UMI count (log): pDCs" },
];
const insets = [
  { box: [50, 81.7, 124, 126.7], extra: tsneMono, col: "rgba(152,78,163,0.85)" },
  { box: [403.3, 81.7, 477, 126.2], extra: tsneT, col: "rgba(55,126,184,0.85)" },
  { box: [50, 565, 124, 610], extra: tsneB, col: "rgba(77,175,74,0.95)" },
  { box: [403.3, 565, 477, 610], extra: tsnePDC, col: "rgba(255,127,0,0.95)" },
];

export default function App() {
  return (
    <div style={{ position: "absolute", left: 0, top: 0, width: 1600, height: 1052, background: "#fff", overflow: "hidden" }}>
      {S.map((s, i) => <Panel key={"s" + i} box={s.box} m={[44, 10, 20, 45]} cfg={scatterCfg(s)} />)}
      {insets.map((s, i) => <Panel key={"i" + i} box={s.box} m={[4, 4, 4, 4]} cfg={insetCfg(s.extra, s.col)} z={2} />)}
      {smallBars.map((s, i) => <Panel key={"b" + i} box={s.box} m={s.m} cfg={s.cfg} />)}

      <Panel box={[793.3, 78, 1535, 303.3]} m={[30, 2, 30, 100]} cfg={heatCfg} />
      <Panel box={[1540, 78, 1558.3, 303.3]} m={[2, 2, 2, 2]} cfg={stackCol(cellTypeSpan, cellTypeFill)} />
      <Panel box={[1562.3, 78, 1580, 303.3]} m={[2, 2, 2, 2]} cfg={stackCol(patientSpan, patientFill)} />
      <Panel box={[1361.8, 448.3, 1537.9, 461]} m={[8, 2, 8, 30]} cfg={zCfg} />
      <Panel box={[697, 131.7, 710.7, 260]} m={[2, 24, 36, 24]} cfg={densityCfg} />

      <Panel box={[960.7, 623.5, 1157.3, 704.3]} m={[255, 14, 30, 22]} cfg={hbarCfg({ box: [960.7, 623.5, 1157.3, 704.3], x0: 962, xs: 2.99, cats: c1Cats, vals: c1Vals, color: BAR_LCH, thick: 17.6, centers: [638.1, 663.5, 689], ticks: [0, 20, 40, 60], tickSize: 16, catSize: 16, catPad: 3, stars: c1Stars, starGap: 9 })} />
      <Panel box={[960.7, 774.5, 1157.3, 855.6]} m={[255, 14, 30, 22]} cfg={hbarCfg({ box: [960.7, 774.5, 1157.3, 855.6], x0: 962, xs: 5.68, cats: c2Cats, vals: c2Vals, color: BAR_LCH, thick: 17.6, centers: [789.4, 814.9, 840.3], ticks: [0, 10, 20, 30], tickSize: 16, catSize: 16, catPad: 3, stars: c2Stars, starGap: 9 })} />
      <Panel box={[958.3, 925.5, 1154.7, 1000.8]} m={[255, 14, 30, 22]} cfg={hbarCfg({ box: [958.3, 925.5, 1154.7, 1000.8], x0: 959.3, xs: 1.853, cats: c3Cats, vals: c3Vals, color: BAR_LCH, thick: 17.6, centers: [934.7, 960.1, 985.6], ticks: [0, 25, 50, 75, 100], tickSize: 16, catSize: 16, catPad: 3, stars: c3Stars, starGap: 9 })} />
      <Panel box={[1387.3, 816, 1568.3, 999]} m={[200, 14, 30, 24]} cfg={hbarCfg({ box: [1387.3, 816, 1568.3, 999], x0: 1387.3, xs: 78.85, cats: dCats, vals: dVals, color: BAR_LCH, thick: 10.7, centers: [826.5, 842.6, 858.7, 874.8, 890.9, 907, 923.1, 939.2, 955.3, 971.4, 987], ticks: [0, .5, 1, 1.5, 2], tickFmt: (v: number) => v.toFixed(1), tickSize: 16.5, catSize: 16.5, catPad: 2, stars: dStars, starGap: 10, starAlign: "center" })} />

      <Panel box={[1242.7, 607.7, 1578.3, 747.3]} m={[44, 3, 4, 3]} cfg={gseaCfg} />
      <Panel box={[1242.7, 747.3, 1578.3, 764.3]} m={[14, 14, 14, 14]} cfg={rugCfg} />
      <div style={{ position: "absolute", left: 1242, top: 764.3, width: 335.6, height: 19.5, border: "1.5px solid #111", background: "linear-gradient(to right,#c0447f 0%,#e9a9c8 4%,#f6e1ec 12%,#fff 28%,#f0fafa 60%,#e0f5f5 85%,#8fe0e0 97%,#30c0c8 100%)", zIndex: 2 }} />

      <T x={10} y={24} text="a" size={31} bold align="l" />
      <T x={763} y={22} text="b" size={31} bold align="l" />
      <T x={765} y={536} text="c" size={31} bold align="l" />
      <T x={1173} y={536} text="d" size={31} bold align="l" />
      <T x={360} y={40} text="Gene expression in LCH cells differs from four" size={16.7} bold />
      <T x={360} y={57} text="immune cell types present in the same LCH lesions" size={16.7} bold />
      <T x={1181} y={40} text="LCH cells express a distinctive gene signature" size={16.7} bold />
      <T x={1181} y={56} text="with intra-patient and inter-patient variation" size={16.7} bold />
      <T x={985} y={552.3} text="Immune and inflammation gene" size={16.7} bold />
      <T x={985} y={568.7} text="signatures are enriched in LCH cells" size={16.7} bold />
      <T x={1408.3} y={552.7} text="MYC targets and pathways of DNA replication" size={16.7} bold />
      <T x={1408.3} y={570} text="and repair are enriched in LCH cells" size={16.7} bold />
      <T x={1410} y={593} text="HALLMARK_MYC_TARGETS_V2" size={13} />

      <T x={128} y={94} text="LCH cells vs. monocytes /" size={16.7} align="l" />
      <T x={128} y={110.7} text="macrophages" size={16.7} align="l" />
      <T x={481.7} y={94} text="LCH vs. T cells" size={16.7} align="l" />
      <T x={128} y={578.3} text="LCH cells vs. B cells" size={16.7} align="l" />
      <T x={481.7} y={579} text="LCH cells vs. pDCs" size={16.7} align="l" />
      <T x={683} y={200} text="Gene density" size={15.7} rot={-90} />
      <T x={786.7} y={192.5} text="LCH and immune cells" size={16.5} rot={-90} />
      <T x={1549} y={338} text="Cell type:" size={17} rot={-90} />
      <T x={1570} y={331.5} text="Patient:" size={17} rot={-90} />

      {headings.map(([t, x, y, c]: any, i) => (
        <React.Fragment key={"h" + i}>
          <div style={{ position: "absolute", left: x - 13, top: y - 4, width: 8, height: 8, borderRadius: 4, background: c, zIndex: 3 }} />
          <T x={x} y={y - 1} text={t} size={16.7} align="l" />
        </React.Fragment>
      ))}
      <T x={222.2} y={548} text="Enrichr score" size={16.5} />
      <T x={575.3} y={548} text="Enrichr score" size={16.5} />
      <T x={222.2} y={1033} text="Enrichr score" size={16.5} />
      <T x={575.3} y={1033} text="Enrichr score" size={16.5} />

      <T x={793} y={432} text="Patient:" align="l" />
      <T x={793} y={463.7} text="Cell type:" align="l" />
      {patientKey.map(([t, c, sx, tx]: any) => (
        <React.Fragment key={"p" + t}>
          <div style={{ position: "absolute", left: sx, top: 421.7, width: 21, height: 21.6, background: c, zIndex: 2 }} />
          <T x={tx} y={432} text={t} size={15.5} align="l" />
        </React.Fragment>
      ))}
      {cellKey.map(([t, c, sx, tx]: any) => (
        <React.Fragment key={"c" + t}>
          <div style={{ position: "absolute", left: sx, top: 452.7, width: 21, height: 22.3, background: c, zIndex: 2 }} />
          <T x={tx} y={463.7} text={t} size={15.5} align="l" />
        </React.Fragment>
      ))}
      <T x={1456} y={420.7} text="Column z-score:" />
      <T x={1456} y={436.7} text="(gene expression)" size={15.5} />

      <T x={1571.7} y={620.7} text="FDR: 0" size={13} align="r" />
      <T x={1571.7} y={636.7} text="Normalized ES: 2.12" size={13} align="r" />
      <T x={1246.7} y={774.7} text="Higher in LCH" size={13.5} align="l" />
      <T x={1575.7} y={773.3} text="Lower in LCH" size={13.5} align="r" />

      <T x={1056.7} y={607} text="ARCHS4 Tissues" />
      <T x={1055.7} y={758} text="Gene Ontology" />
      <T x={1056} y={909} text="Jensen Diseases" />
      <T x={1041.7} y={1033} text="Enrichr score" size={16.5} />
      <T x={1477.7} y={1033.3} text="Normalised enrichment score" />
    </div>
  );
}
